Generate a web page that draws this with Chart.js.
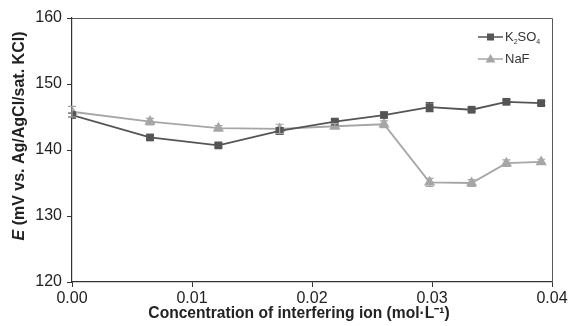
<!DOCTYPE html>
<html>
<head>
<meta charset="utf-8">
<script src="https://cdn.jsdelivr.net/npm/chart.js@4"></script>
<style>
  html, body { margin: 0; padding: 0; background: #fff; }
  #wrap { width: 570px; height: 326px; }
</style>
</head>
<body>
<div id="wrap"><canvas id="chart" width="570" height="326"></canvas></div>
<script>
// concentrations (mol/L)
const conc = [0, 0.0065, 0.0122, 0.0173, 0.0219, 0.0260, 0.0298, 0.0333, 0.0362, 0.0391];
const k2so4 = [145.3, 141.9, 140.7, 142.9, 144.3, 145.3, 146.5, 146.1, 147.3, 147.1];
const k2so4Err = [0.3, 0.3, 0.3, 0.5, 0.3, 0.3, 0.7, 0.3, 0.3, 0.3];
const naf = [145.8, 144.3, 143.3, 143.2, 143.6, 143.9, 135.1, 135.0, 138.0, 138.2];
const nafErr = [0.8, 0.5, 0.4, 0.7, 0.4, 0.5, 0.6, 0.5, 0.5, 0.4];
const yTicks = [120, 130, 140, 150, 160];
const xTicks = [0, 0.01, 0.02, 0.03, 0.04];
const xTitle = 'Concentration of interfering ion (mol·L⁻¹)';

const darkGray = '#555555';
const lightGray = '#a6a6a6';
const font = 'Liberation Sans, Arial, sans-serif';

const toPoints = (ys) => ys.map((y, i) => ({ x: conc[i], y }));

// error bars + frame + legend + axis titles
const extras = {
  id: 'extras',
  afterDatasetsDraw(chart) {
    const { ctx, scales: { x, y } } = chart;
    chart.data.datasets.forEach((ds) => {
      ctx.save();
      ctx.strokeStyle = ds.borderColor;
      ctx.lineWidth = 1.2;
      ds.data.forEach((p, i) => {
        const px = x.getPixelForValue(p.x);
        const top = y.getPixelForValue(p.y + ds.err[i]);
        const bot = y.getPixelForValue(p.y - ds.err[i]);
        ctx.beginPath();
        ctx.moveTo(px, top); ctx.lineTo(px, bot);
        ctx.moveTo(px - 4, top); ctx.lineTo(px + 4, top);
        ctx.moveTo(px - 4, bot); ctx.lineTo(px + 4, bot);
        ctx.stroke();
      });
      ctx.restore();
    });
  },
  afterDraw(chart) {
    const { ctx, chartArea: a } = chart;
    ctx.save();
    // top and right frame
    ctx.strokeStyle = '#5a5a5a';
    ctx.lineWidth = 1;
    ctx.beginPath();
    ctx.moveTo(a.left, a.top + 0.5); ctx.lineTo(a.right + 0.5, a.top + 0.5);
    ctx.lineTo(a.right + 0.5, a.bottom);
    ctx.stroke();

    // legend
    const items = [
      { label: ['K', '2', 'SO', '4'], color: darkGray, style: 'rect', y: 37 },
      { label: ['NaF'], color: lightGray, style: 'triangle', y: 59 }
    ];
    items.forEach((it) => {
      ctx.strokeStyle = it.color;
      ctx.fillStyle = it.color;
      ctx.lineWidth = 1.5;
      ctx.beginPath();
      ctx.moveTo(478, it.y); ctx.lineTo(503, it.y);
      ctx.stroke();
      if (it.style === 'rect') {
        ctx.fillRect(487, it.y - 3.5, 7, 7);
      } else {
        ctx.beginPath();
        ctx.moveTo(490.5, it.y - 5); ctx.lineTo(495.5, it.y + 3.5); ctx.lineTo(485.5, it.y + 3.5);
        ctx.closePath(); ctx.fill();
      }
      ctx.fillStyle = '#333';
      ctx.textBaseline = 'middle';
      ctx.textAlign = 'left';
      let tx = 505;
      it.label.forEach((part, k) => {
        const sub = k % 2 === 1;
        ctx.font = (sub ? '7px ' : '13px ') + font;
        ctx.fillText(part, tx, it.y + (sub ? 5 : 0));
        tx += ctx.measureText(part).width;
      });
    });

    // x axis title
    ctx.fillStyle = '#222';
    ctx.textAlign = 'center';
    ctx.textBaseline = 'alphabetic';
    ctx.font = 'bold 15.6px ' + font;
    ctx.fillText(xTitle, 299, 318);

    // y axis title with italic E
    ctx.translate(20, 136);
    ctx.rotate(-Math.PI / 2);
    ctx.textBaseline = 'middle';
    const p1 = 'E', p2 = ' (mV vs. Ag/AgCl/sat. KCl)';
    ctx.font = 'italic bold 16px ' + font;
    const w1 = ctx.measureText(p1).width;
    ctx.font = 'bold 16px ' + font;
    const w2 = ctx.measureText(p2).width;
    const sx = -(w1 + w2) / 2;
    ctx.textAlign = 'left';
    ctx.font = 'italic bold 16px ' + font;
    ctx.fillText(p1, sx, 0);
    ctx.font = 'bold 16px ' + font;
    ctx.fillText(p2, sx + w1, 0);
    ctx.restore();
  }
};

new Chart(document.getElementById('chart'), {
  type: 'line',
  data: {
    datasets: [
      {
        label: 'K2SO4',
        data: toPoints(k2so4),
        err: k2so4Err,
        borderColor: darkGray,
        backgroundColor: darkGray,
        borderWidth: 1.8,
        pointStyle: 'rect',
        pointRadius: 5.5,
        pointBorderWidth: 0,
        tension: 0
      },
      {
        label: 'NaF',
        data: toPoints(naf),
        err: nafErr,
        borderColor: lightGray,
        backgroundColor: lightGray,
        borderWidth: 1.8,
        pointStyle: 'triangle',
        pointRadius: 6.5,
        pointBorderWidth: 0,
        tension: 0
      }
    ]
  },
  options: {
    responsive: false,
    animation: false,
    layout: { padding: { left: 0, right: 18, top: 18, bottom: 0 } },
    plugins: { legend: { display: false }, tooltip: { enabled: false } },
    scales: {
      x: {
        type: 'linear',
        min: 0, max: 0.04,
        afterBuildTicks: (s) => { s.ticks = xTicks.map((v) => ({ value: v })); },
        afterFit: (s) => { s.height = 44; },
        grid: { drawOnChartArea: false, drawTicks: true, tickLength: 5, color: '#333' },
        border: { display: true, color: '#333', width: 1.2 },
        ticks: {
          color: '#222',
          font: { family: font, size: 16 },
          padding: 2,
          maxRotation: 0,
          callback: (v) => v.toFixed(2)
        }
      },
      y: {
        min: 120, max: 160,
        afterBuildTicks: (s) => { s.ticks = yTicks.map((v) => ({ value: v })); },
        afterFit: (s) => { s.width = 72; },
        grid: { drawOnChartArea: false, drawTicks: true, tickLength: 5, color: '#333' },
        border: { display: true, color: '#333', width: 1.2 },
        ticks: {
          color: '#222',
          font: { family: font, size: 16 },
          padding: 5
        }
      }
    }
  },
  plugins: [extras]
});
</script>
</body>
</html>
